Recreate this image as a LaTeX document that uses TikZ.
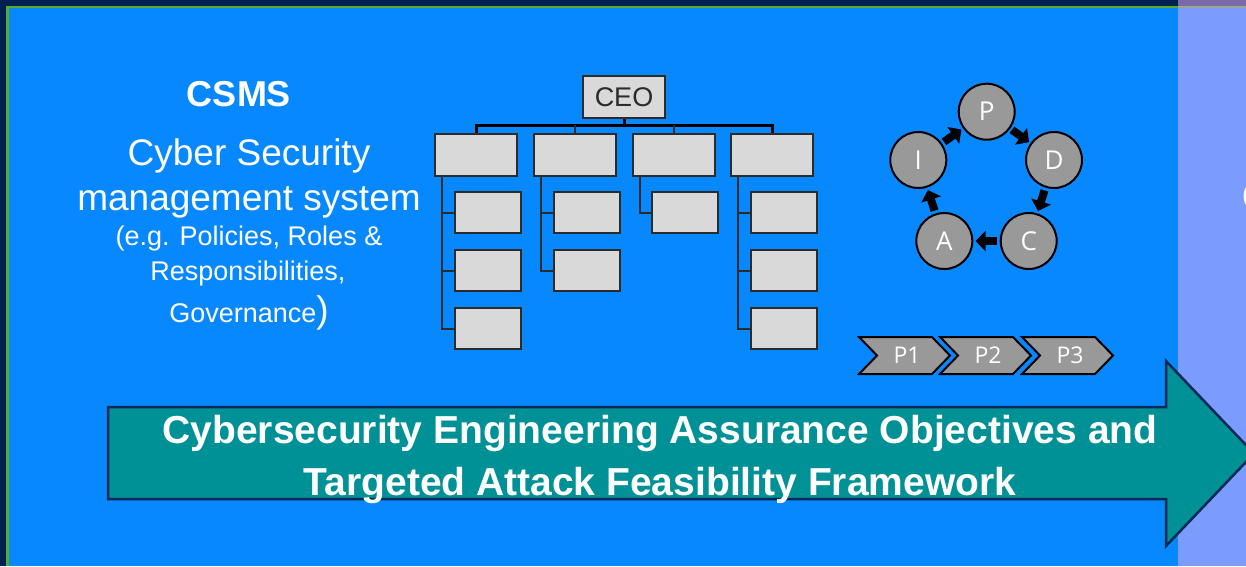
\documentclass[tikz,border=0pt]{standalone}
\usepackage{fontspec}
\setmainfont{Liberation Sans}
\newfontfamily\rob{Open Sans}
\usetikzlibrary{arrows.meta,calc}
\definecolor{navy}{RGB}{0,33,80}
\definecolor{frgreen}{RGB}{90,170,40}
\definecolor{bgblue}{RGB}{7,136,255}
\definecolor{panel}{RGB}{123,155,255}
\definecolor{panelTop}{RGB}{122,106,168}
\definecolor{panelLine}{RGB}{152,168,144}
\definecolor{boxgrey}{RGB}{217,217,217}
\definecolor{boxline}{RGB}{43,43,43}
\definecolor{cgrey}{RGB}{153,153,153}
\definecolor{teal}{RGB}{0,145,150}
\definecolor{arrline}{RGB}{10,40,85}
\begin{document}
\begin{tikzpicture}[x=1pt,y=-1pt,
  orgbox/.style={draw=boxline,fill=boxgrey,line width=2pt,inner sep=0pt,minimum width=82pt,minimum height=42pt},
  subbox/.style={draw=boxline,fill=boxgrey,line width=2pt,inner sep=0pt,minimum width=66pt,minimum height=41pt},
  conn/.style={draw=boxline,line width=2pt},
  barline/.style={draw=black,line width=3pt},
  pdca/.style={circle,draw=black,line width=2pt,fill=cgrey,minimum size=56pt,inner sep=0pt,text=white,font=\rob\fontsize{26}{28}\selectfont},
  cyc/.style={line width=8pt,-{Triangle[length=10pt,width=20pt]}},
  chevron/.style={draw=black,line width=2pt,fill=cgrey},
  chevtext/.style={text=white,font=\rob\fontsize{23}{25}\selectfont,inner sep=0pt},
  wtxt/.style={text=white,inner sep=0pt,anchor=base}]
\useasboundingbox (0,0) rectangle (1246,566);
% background frame
\fill[navy] (0,0) rectangle (1246,566);
\fill[frgreen] (6,6) rectangle (1246,566);
\fill[bgblue] (9,8) rectangle (1246,566);
\fill[panelTop] (1178,0) rectangle (1246,6);
\fill[panelLine] (1178,6) rectangle (1246,8);
\fill[panel] (1178,8) rectangle (1246,566);
\node[wtxt,anchor=base west,font=\fontsize{27}{29}\selectfont] (paren) at (1242,203) {(};

% CSMS text
\node[wtxt,font=\bfseries\fontsize{36}{38}\selectfont] (csms) at (239,106) {CSMS};
\node[wtxt,font=\fontsize{37}{39}\selectfont] (cs1) at (249,165) {Cyber Security};
\node[wtxt,font=\fontsize{37}{39}\selectfont] (cs2) at (249,210) {management system};
\node[wtxt,font=\fontsize{27}{29}\selectfont] (cs3) at (249,245) {(e.g. Policies, Roles \&};
\node[wtxt,font=\fontsize{27}{29}\selectfont] (cs4) at (248,280) {Responsibilities,};
\node[wtxt,font=\fontsize{27}{29}\selectfont] (cs5) at (249,322) {Governance\fontsize{37}{39}\selectfont)};

% org chart
\node[orgbox,text=boxline,font=\fontsize{27}{29}\selectfont] (ceo) at (624,97) {CEO};
\node[orgbox] (b1) at (476,155) {};
\node[orgbox] (b2) at (575,155) {};
\node[orgbox] (b3) at (673.5,155) {};
\node[orgbox] (b4) at (772,155) {};
\foreach \r/\y in {1/212.5,2/270.5,3/328.5}{
  \node[subbox] (s1\r) at (488,\y) {};
  \node[subbox] (s4\r) at (784,\y) {};
}
\foreach \r/\y in {1/212.5,2/270.5}{
  \node[subbox] (s2\r) at (587,\y) {};
}
\node[subbox] (s31) at (685,212.5) {};

\draw[barline] (ceo.south) -- ++(0,8);
\draw[barline] (b1.north) -- ++(0,-8) -| (b4.north);
\draw[conn] (b2.north) -- ++(0,-8);
\draw[conn] (b3.north) -- ++(0,-8);
\draw[conn] ($(b1.south west)+(8,0)$) |- (s13.west);
\draw[conn] ($(b1.south west)+(8,0)$) |- (s11.west);
\draw[conn] ($(b1.south west)+(8,0)$) |- (s12.west);
\draw[conn] ($(b2.south west)+(8,0)$) |- (s22.west);
\draw[conn] ($(b2.south west)+(8,0)$) |- (s21.west);
\draw[conn] ($(b3.south west)+(8,0)$) |- (s31.west);
\draw[conn] ($(b4.south west)+(8,0)$) |- (s43.west);
\draw[conn] ($(b4.south west)+(8,0)$) |- (s41.west);
\draw[conn] ($(b4.south west)+(8,0)$) |- (s42.west);

% PDCA cycle
\node[pdca] (P) at (986.7,111.7) {P};
\node[pdca] (D) at (1054,160) {D};
\node[pdca] (C) at (1028.7,241) {C};
\node[pdca] (A) at (944.3,241) {A};
\node[pdca] (I) at (918.3,160) {I};
\draw[cyc] ($(I)!0.375!(P)$) -- ($(I)!0.63!(P)$);
\draw[cyc] ($(P)!0.375!(D)$) -- ($(P)!0.63!(D)$);
\draw[cyc] ($(D)!0.375!(C)$) -- ($(D)!0.63!(C)$);
\draw[cyc] ($(C)!0.375!(A)$) -- ($(C)!0.63!(A)$);
\draw[cyc] ($(A)!0.375!(I)$) -- ($(A)!0.63!(I)$);

% chevrons
\foreach \n/\x in {1/859,2/940,3/1022}{
  \path[chevron] (\x,337) -- ++(73,0) -- ++(18,18.5) -- ++(-18,18.5) -- ++(-73,0) -- ++(18,-18.5) -- cycle;
  \node[chevtext] (p\n) at (\x+48,355.5) {P\n};
}

% big arrow
\path[draw=arrline,line width=2.5pt,fill=teal,line join=miter]
  (108,407) -- (1166,407) -- (1166,361) -- (1254,453.5) -- (1166,546) -- (1166,499) -- (108,499) -- cycle;
\node[wtxt,font=\bfseries\fontsize{39}{41}\selectfont] (t1) at (660,443) {Cybersecurity Engineering Assurance Objectives and};
\node[wtxt,font=\bfseries\fontsize{39}{41}\selectfont] (t2) at (660,495) {Targeted Attack Feasibility Framework};
\end{tikzpicture}
\end{document}
